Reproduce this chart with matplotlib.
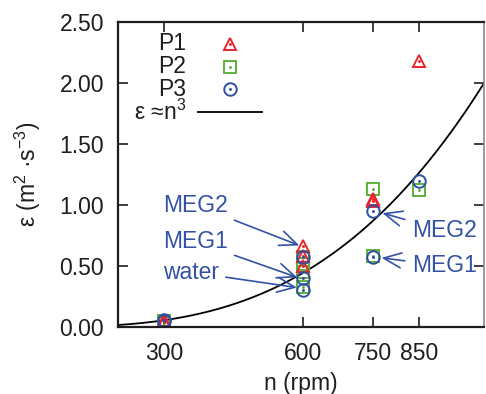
import numpy as np
import matplotlib
matplotlib.use('Agg')
import matplotlib.pyplot as plt

plt.rcParams['font.family'] = ['Liberation Sans', 'DejaVu Sans']
plt.rcParams['mathtext.fontset'] = 'custom'
plt.rcParams['mathtext.rm'] = 'Liberation Sans'
plt.rcParams['mathtext.it'] = 'Liberation Sans'

# dissipation rate readings per impeller, grouped by stirring speed
p1_n = [300, 300, 600, 600, 600, 750, 750, 850]
p1_eps = [0.06, 0.04, 0.66, 0.58, 0.50, 1.05, 1.03, 2.18]
p2_n = [300, 300, 600, 600, 600, 600, 750, 750, 850]
p2_eps = [0.03, 0.05, 0.57, 0.52, 0.45, 0.33, 1.13, 0.58, 1.12]
p3_n = [300, 300, 600, 600, 600, 750, 750, 850]
p3_eps = [0.06, 0.05, 0.57, 0.40, 0.30, 0.95, 0.57, 1.20]

k_fit = 2.06e-9  # eps = k * n^3
xticks = [300, 600, 750, 850]
yticks = [0.0, 0.5, 1.0, 1.5, 2.0, 2.5]

red = '#e8242c'
green = '#5db13a'
blue = '#2f4fa3'
ann = '#3352a6'
ink = '#1e1e1e'
fs = 16.5

fig = plt.figure(figsize=(4.86, 3.94), dpi=100)
ax = fig.add_axes([118 / 486, 1 - 327 / 394, 366 / 486, 305 / 394])


def scatter_dot(x, y, marker, color, size, **kw):
    ax.plot(x, y, linestyle='none', marker=marker, markersize=size,
            markerfacecolor='none', markeredgecolor=color,
            markeredgewidth=1.4, **kw)
    ax.plot(x, y, linestyle='none', marker='.', markersize=2.2, color=color,
            **kw)


nn = np.linspace(200, 990, 300)
ax.plot(nn, k_fit * nn ** 3, color='black', lw=1.3)

scatter_dot(p2_n, p2_eps, 's', green, 8)
scatter_dot(p1_n, p1_eps, '^', red, 8.5)
scatter_dot(p3_n, p3_eps, 'o', blue, 9)

ax.set_xlim(200, 990)
ax.set_ylim(0, 2.5)
ax.set_xticks(xticks)
ax.set_yticks(yticks)
ax.set_yticklabels(['%.2f' % v for v in yticks])
ax.tick_params(direction='in', length=7, width=1.2, labelsize=fs,
               top=True, right=True, colors=ink)
ax.tick_params(axis='y', pad=10)
ax.tick_params(axis='x', pad=11)
for s in ax.spines.values():
    s.set_linewidth(1.6)
    s.set_color(ink)
ax.spines['right'].set_color('#8a8a8a')
ax.spines['right'].set_linewidth(1.2)

ax.set_xlabel('n (rpm)', fontsize=fs, color=ink, labelpad=5)
ax.set_ylabel(r'ε (m$^2$ ·s$^{-3}$)', fontsize=fs, color=ink,
              labelpad=12)

# legend in gnuplot style: right-aligned text, sample to its right
w, h = 366.0, 305.0
leg_x_txt = (186 - 118) / w
leg_x_mk = (230 - 118) / w
rows = [('P1', '^', red, 8.5), ('P2', 's', green, 8), ('P3', 'o', blue, 9)]
for i, (lab, mk, col, sz) in enumerate(rows):
    yy = 1 - (44 + 22.5 * i - 22) / h
    ax.text(leg_x_txt, yy, lab, transform=ax.transAxes, ha='right',
            va='center', fontsize=fs, color=ink)
    scatter_dot([leg_x_mk], [yy], mk, col, sz, transform=ax.transAxes)
yy = 1 - (112 - 22) / h
ax.text(leg_x_txt, yy, r'ε ≈n$^3$', transform=ax.transAxes, ha='right',
        va='center', fontsize=fs, color=ink)
ax.plot([(198 - 118) / w, (262 - 118) / w], [yy, yy],
        transform=ax.transAxes, color='black', lw=1.3)

arrow = dict(arrowstyle='->,head_length=0.7,head_width=0.3', color=ann,
             lw=1.2, mutation_scale=18, shrinkA=3, shrinkB=2)
# labels on the left pointing at the 600 rpm group
ax.annotate('MEG2', xy=(597, 0.66), xytext=(297, 1.00), fontsize=fs,
            color=ann, ha='left', va='center', arrowprops=arrow)
ax.annotate('MEG1', xy=(592, 0.40), xytext=(297, 0.70), fontsize=fs,
            color=ann, ha='left', va='center', arrowprops=arrow)
ax.annotate('water', xy=(592, 0.32), xytext=(297, 0.45), fontsize=fs,
            color=ann, ha='left', va='center', arrowprops=arrow)
# labels on the right pointing at the 750 rpm points
ax.annotate('MEG2', xy=(765, 0.94), xytext=(834, 0.79), fontsize=fs,
            color=ann, ha='left', va='center', arrowprops=arrow)
ax.annotate('MEG1', xy=(763, 0.57), xytext=(834, 0.50), fontsize=fs,
            color=ann, ha='left', va='center', arrowprops=arrow)

fig.savefig('out.png', dpi=100)
